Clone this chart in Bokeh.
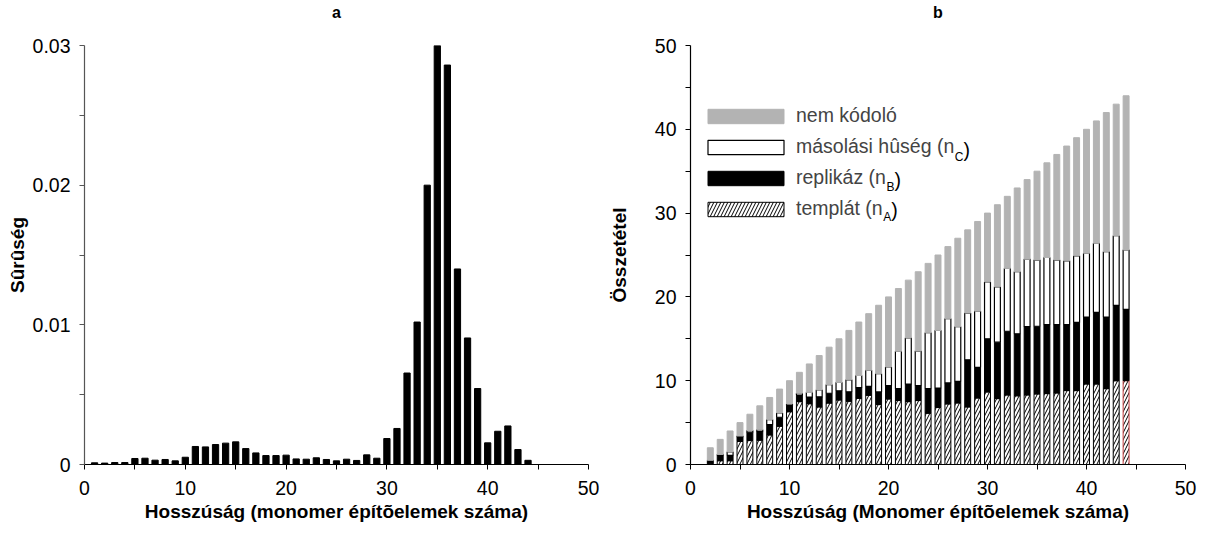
from bokeh.plotting import figure
from bokeh.models import (FixedTicker, Legend, LegendItem, Label, Range1d, LinearAxis)
from bokeh.layouts import row
from bokeh.embed import file_html
from bokeh.resources import INLINE

FONT = "Liberation Sans"

# ---------------- data: panel a ----------------
lengths_a = list(range(1, 45))
density = [0.00012, 0.00010, 0.00014, 0.00014, 0.00043, 0.00045, 0.00031, 0.00036, 0.00026, 0.00052,
           0.00129, 0.00126, 0.00143, 0.00153, 0.00162, 0.00114, 0.00083, 0.00064, 0.00064, 0.00067,
           0.00040, 0.00038, 0.00048, 0.00036, 0.00026, 0.00038, 0.00029, 0.00069, 0.00045, 0.00186,
           0.00258, 0.00655, 0.01020, 0.02000, 0.03000, 0.02860, 0.01400, 0.00906, 0.00544, 0.00155,
           0.00238, 0.00276, 0.00107, 0.00030]

# ---------------- data: panel b ----------------
lengths_b = list(range(1, 45))
templat = [0, 0.15, 0.45, 0.45, 2.75, 2.86, 2.9, 3.53, 4.57, 6.3,
           7.5, 7.25, 6.87, 7.33, 7.7, 7.55, 7.9, 8.26, 7.15, 7.82,
           7.63, 7.5, 7.63, 6.12, 6.8, 7.23, 7.35, 6.87, 7.94, 8.66,
           7.86, 8.3, 8.2, 8.3, 8.42, 8.46, 8.54, 8.82, 8.82, 9.61,
           9.61, 9.05, 10.0, 10.0]
replikaz = [0, 0.35, 0.65, 0.65, 0.55, 1.0, 1.05, 1.24, 1.07, 0.75,
            0.78, 0.8, 1.2, 1.17, 1.1, 1.13, 1.27, 1.07, 1.51, 1.59,
            1.42, 2.1, 1.8, 2.95, 2.33, 2.5, 2.58, 5.63, 3.66, 6.34,
            6.74, 7.6, 7.4, 8.15, 8.08, 8.24, 8.16, 7.88, 8.14, 7.99,
            8.54, 8.55, 9.0, 8.5]
masolasi = [0, 0, 0.1, 0.4, 0.1, 0.2, 0.2, 0.59, 0.52, 0.18,
            0.22, 0.55, 0.83, 1.03, 1.0, 1.43, 1.45, 1.91, 2.18, 2.23,
            4.45, 5.5, 4.1, 6.65, 6.87, 7.67, 6.52, 5.57, 6.7, 6.8,
            6.6, 7.5, 7.4, 8.05, 7.9, 8.0, 7.7, 7.6, 7.94, 7.6,
            8.25, 7.8, 8.3, 7.1]
nem_kodolo = [0, 1.5, 1.8, 2.5, 1.6, 1.94, 2.85, 2.64, 2.84, 2.77,
              2.5, 3.4, 4.1, 4.47, 5.2, 5.89, 6.38, 6.76, 8.16, 8.36,
              7.5, 6.9, 9.47, 8.28, 9.0, 8.6, 10.55, 9.93, 10.7, 8.2,
              9.8, 8.6, 10.0, 9.5, 10.6, 11.3, 12.6, 13.7, 14.1, 14.8,
              14.6, 16.6, 15.7, 18.4]

x_ticks = [0, 10, 20, 30, 40, 50]
x_minor = [5, 15, 25, 35, 45]
ya_ticks = [0, 0.01, 0.02, 0.03]
ya_minor = [0.005, 0.015, 0.025]
ya_labels = {0: "0", 0.01: "0.01", 0.02: "0.02", 0.03: "0.03"}
yb_ticks = [0, 10, 20, 30, 40, 50]
yb_minor = [5, 15, 25, 35, 45]

TICK_SIZE = "19.5px"
LABEL_SIZE = "19px"


def style_axes(p, xlabel, ylabel, y_label_standoff, yaxis_color):
    p.xaxis.axis_label = xlabel
    p.yaxis.axis_label = ylabel
    for ax in (p.xaxis[0], p.yaxis[0]):
        ax.major_tick_in = 0
        ax.major_tick_out = 5
        ax.minor_tick_in = 0
        ax.minor_tick_out = 5
        ax.major_label_text_font = FONT
        ax.major_label_text_font_size = TICK_SIZE
        ax.major_label_text_color = "black"
        ax.axis_label_text_font = FONT
        ax.axis_label_text_font_size = LABEL_SIZE
        ax.axis_label_text_font_style = "bold"
        ax.axis_label_text_color = "black"
        ax.axis_line_width = 1.2
    p.xaxis.axis_line_color = "black"
    p.xaxis.major_tick_line_color = "black"
    p.xaxis.minor_tick_line_color = "black"
    p.yaxis.axis_line_color = yaxis_color
    p.yaxis.major_tick_line_color = yaxis_color
    p.yaxis.minor_tick_line_color = yaxis_color
    p.xaxis.major_label_standoff = 11
    p.xaxis.axis_label_standoff = 3
    p.yaxis.major_label_standoff = 9
    p.yaxis.axis_label_standoff = y_label_standoff
    p.xaxis.ticker = FixedTicker(ticks=x_ticks, minor_ticks=x_minor)
    p.xgrid.grid_line_color = None
    p.ygrid.grid_line_color = None
    p.outline_line_color = None


def panel_title(p, text, bounds):
    kw = {}
    if bounds is not None:
        kw["bounds"] = bounds
    ax = LinearAxis(axis_label=text, ticker=FixedTicker(ticks=[]),
                    axis_line_color=None, major_tick_line_color=None, minor_tick_line_color=None,
                    major_tick_out=0, minor_tick_out=0, major_tick_in=0, minor_tick_in=0,
                    major_label_standoff=0, axis_label_standoff=25,
                    axis_label_text_font=FONT, axis_label_text_font_size="16px",
                    axis_label_text_font_style="bold", axis_label_text_color="black", **kw)
    p.add_layout(ax, "above")


# ---------------- panel a ----------------
pa = figure(width=605, height=526, output_backend="svg", toolbar_location=None,
            x_range=Range1d(0, 50), y_range=Range1d(0, 0.03),
            min_border_left=84, min_border_right=17, min_border_top=44, min_border_bottom=62)
pa.vbar(x=lengths_a, top=density, width=0.62, fill_color="black", line_color="black")
style_axes(pa, "Hosszúság (monomer építõelemek száma)", "Sûrûség", 2, "#555555")
pa.yaxis.ticker = FixedTicker(ticks=ya_ticks, minor_ticks=ya_minor)
pa.yaxis.major_label_overrides = ya_labels
panel_title(pa, "a", (0, 47.2))

# ---------------- panel b ----------------
pb = figure(width=592, height=526, output_backend="svg", toolbar_location=None,
            x_range=Range1d(0, 50), y_range=Range1d(0, 50),
            min_border_left=79, min_border_right=12, min_border_top=44, min_border_bottom=62)

src = dict(x=lengths_b, templat=templat, replikaz=replikaz, masolasi=masolasi,
           nem_kodolo=nem_kodolo,
           edge=["black"] * 43 + ["#c43c3c"])
rs = pb.vbar_stack(["templat", "replikaz", "masolasi", "nem_kodolo"], x="x", width=0.6, source=src,
                   fill_color=["white", "black", "white", "#b3b3b3"],
                   line_color=["edge", "black", "black", "#b3b3b3"],
                   line_width=[1, 1, 1.2, 1],
                   hatch_pattern=["/", " ", " ", " "],
                   hatch_color=["black", "black", "black", "black"],
                   hatch_scale=[7, 7, 7, 7],
                   hatch_weight=[1, 1, 1, 1])
style_axes(pb, "Hosszúság (Monomer építõelemek száma)", "Összetétel", 22, "black")
pb.yaxis.ticker = FixedTicker(ticks=yb_ticks, minor_ticks=yb_minor)
panel_title(pb, "b", None)

legend = Legend(items=[LegendItem(label="nem kódoló", renderers=[rs[3]]),
                       LegendItem(label="másolási hûség (n", renderers=[rs[2]]),
                       LegendItem(label="replikáz (n", renderers=[rs[1]]),
                       LegendItem(label="templát (n", renderers=[rs[0]])],
                location=(8, 244), orientation="vertical",
                glyph_width=95, glyph_height=18, label_height=22, spacing=8,
                label_standoff=3, padding=0, margin=0,
                border_line_color=None, background_fill_alpha=0,
                label_text_font=FONT, label_text_font_size=TICK_SIZE)
pb.add_layout(legend, "center")

# subscripts and closing parentheses of legend labels
leg_text_x = 8 + 95 + 3
fs = 19.5
sub_fs = 12
rows_info = [("C", 315, 8.114), ("B", 285, 4.612), ("A", 255, 4.446)]
for letter, yc, em in rows_info:
    xs = leg_text_x + em * fs
    pb.add_layout(Label(x=xs, y=yc - 7, x_units="screen", y_units="screen", text=letter,
                        text_font=FONT, text_font_size=f"{sub_fs}px", text_baseline="alphabetic",
                        text_color="black"))
    wsub = 0.722 * sub_fs if letter == "C" else 0.667 * sub_fs
    pb.add_layout(Label(x=xs + wsub, y=yc, x_units="screen", y_units="screen", text=")",
                        text_font=FONT, text_font_size=TICK_SIZE, text_baseline="middle",
                        text_color="black"))

layout = row(pa, pb)
open("out.html", "w").write(file_html(layout, INLINE))
